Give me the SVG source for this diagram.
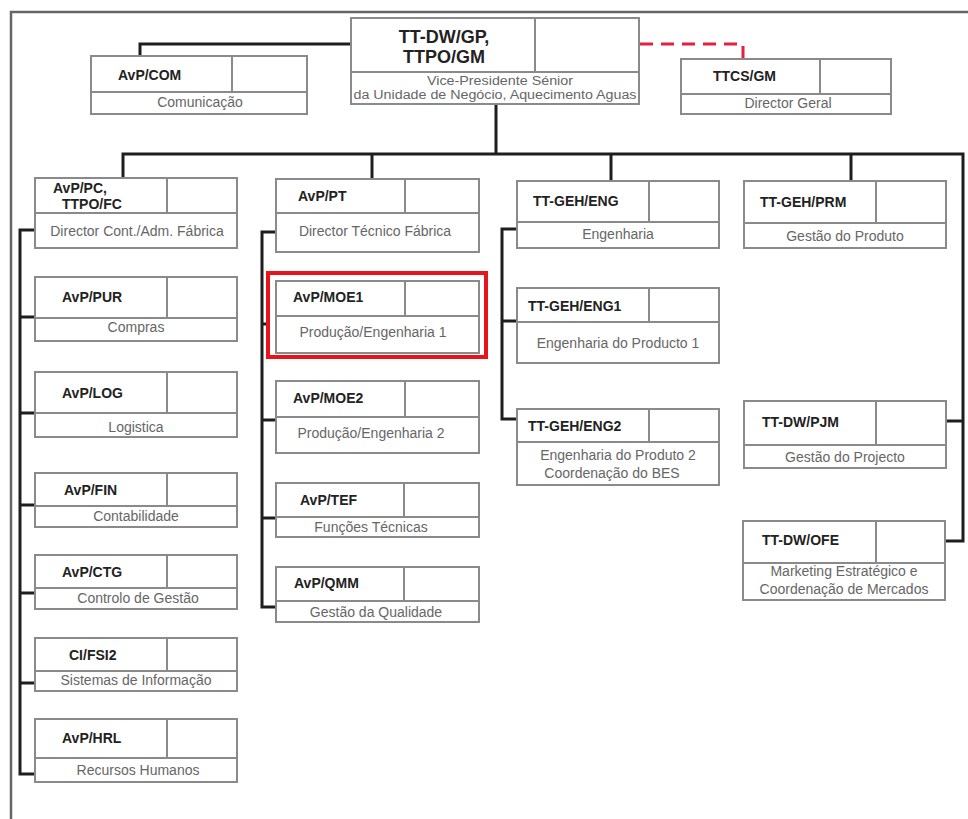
<svg xmlns="http://www.w3.org/2000/svg" width="968" height="819" viewBox="0 0 968 819">
<style>
.box{fill:#fff;stroke:#8a8a8a;stroke-width:2}
.div{stroke:#8a8a8a;stroke-width:2;fill:none}
.lbl{font-family:"Liberation Sans",Arial,sans-serif;font-size:14px;font-weight:bold;fill:#222}
.sub{font-family:"Liberation Sans",Arial,sans-serif;font-size:14px;fill:#666;text-anchor:middle}
.sm{font-size:12.5px}
.big{font-family:"Liberation Sans",Arial,sans-serif;font-size:18px;font-weight:bold;fill:#222;text-anchor:middle}
.con{stroke:#1e1e1e;stroke-width:3;fill:none}
.frame{stroke:#666;stroke-width:2.5;fill:none}
.dash{stroke:#e2203f;stroke-width:3;fill:none;stroke-dasharray:13 8}
</style>
<rect width="968" height="819" fill="#fff"/>
<path class="frame" d="M11 819 V12 H968"/>
<g id="connectors">
<path class="con" d="M140 56 V44 H352"/>
<path class="dash" d="M640 44 H743 V59"/>
<path class="con" d="M496 104 V154"/>
<path class="con" d="M123 178 V154 H963 V541 H945"/>
<path class="con" d="M372 154 V179"/>
<path class="con" d="M611 154 V181"/>
<path class="con" d="M851 154 V181"/>
<path class="con" d="M946 421 H963"/>
<path class="con" d="M35 230 H20 V774 H35"/>
<path class="con" d="M20 317 H35 M20 413 H35 M20 505 H35 M20 593 H35 M20 683 H35"/>
<path class="con" d="M276 232 H262 V607 H276"/>
<path class="con" d="M262 324 H268 M262 420 H276 M262 518 H276"/>
<path class="con" d="M517 229 H502 V419 H517"/>
<path class="con" d="M502 321 H517"/>
</g>
<g id="n-top">
<rect class="box" x="351" y="18" width="288" height="86"/>
<path class="div" d="M351 72 H639 M535 18 V72"/>
<text class="big" x="444" y="43">TT-DW/GP,</text>
<text class="big" x="444" y="63">TTPO/GM</text>
<text class="sub sm" x="500" y="85" textLength="146" lengthAdjust="spacingAndGlyphs">Vice-Presidente Sénior</text>
<text class="sub sm" x="495" y="99" textLength="283" lengthAdjust="spacingAndGlyphs">da Unidade de Negócio, Aquecimento Aguas</text>
</g>
<g id="n-com">
<rect class="box" x="91" y="56" width="216" height="58"/>
<path class="div" d="M91 92 H307 M232 56 V92"/>
<text class="lbl" x="118" y="80">AvP/COM</text>
<text class="sub" x="200" y="107">Comunicação</text>
</g>
<g id="n-ttcs">
<rect class="box" x="681" y="59" width="210" height="55"/>
<path class="div" d="M681 94 H891 M820 59 V94"/>
<text class="lbl" x="713" y="81">TTCS/GM</text>
<text class="sub" x="788" y="108">Director Geral</text>
</g>
<!-- column 1 -->
<g id="n-pc">
<rect class="box" x="35" y="178" width="202" height="70"/>
<path class="div" d="M35 213 H237 M167 178 V213"/>
<text class="lbl" x="53" y="193">AvP/PC,</text>
<text class="lbl" x="62" y="209">TTPO/FC</text>
<text class="sub" x="137" y="236">Director Cont./Adm. Fábrica</text>
</g>
<g id="n-pur">
<rect class="box" x="35" y="277" width="202" height="64"/>
<path class="div" d="M35 318 H237 M167 277 V318"/>
<text class="lbl" x="62" y="302">AvP/PUR</text>
<text class="sub" x="136" y="332">Compras</text>
</g>
<g id="n-log">
<rect class="box" x="35" y="372" width="202" height="65"/>
<path class="div" d="M35 413 H237 M167 372 V413"/>
<text class="lbl" x="62" y="398">AvP/LOG</text>
<text class="sub" x="136" y="432">Logistica</text>
</g>
<g id="n-fin">
<rect class="box" x="35" y="473" width="202" height="54"/>
<path class="div" d="M35 506 H237 M167 473 V506"/>
<text class="lbl" x="64" y="495">AvP/FIN</text>
<text class="sub" x="136" y="521">Contabilidade</text>
</g>
<g id="n-ctg">
<rect class="box" x="35" y="555" width="202" height="54"/>
<path class="div" d="M35 588 H237 M167 555 V588"/>
<text class="lbl" x="62" y="577">AvP/CTG</text>
<text class="sub" x="138" y="603">Controlo de Gestão</text>
</g>
<g id="n-fsi">
<rect class="box" x="35" y="638" width="202" height="53"/>
<path class="div" d="M35 671 H237 M167 638 V671"/>
<text class="lbl" x="69" y="660">CI/FSI2</text>
<text class="sub" x="136" y="685">Sistemas de Informação</text>
</g>
<g id="n-hrl">
<rect class="box" x="35" y="719" width="202" height="63"/>
<path class="div" d="M35 758 H237 M167 719 V758"/>
<text class="lbl" x="62" y="743">AvP/HRL</text>
<text class="sub" x="138" y="775">Recursos Humanos</text>
</g>
<!-- column 2 -->
<g id="n-pt">
<rect class="box" x="276" y="179" width="203" height="73"/>
<path class="div" d="M276 213 H479 M405 179 V213"/>
<text class="lbl" x="298" y="201">AvP/PT</text>
<text class="sub" x="375" y="236">Director Técnico Fábrica</text>
</g>
<g id="n-moe1">
<rect x="268" y="273" width="218" height="84" fill="#fff" stroke="#e8141c" stroke-width="4"/>
<rect class="box" x="276" y="281" width="203" height="72"/>
<path class="div" d="M276 316 H479 M405 281 V316"/>
<text class="lbl" x="293" y="302">AvP/MOE1</text>
<text class="sub" x="373" y="337">Produção/Engenharia 1</text>
</g>
<g id="n-moe2">
<rect class="box" x="276" y="381" width="203" height="72"/>
<path class="div" d="M276 417 H479 M405 381 V417"/>
<text class="lbl" x="293" y="403">AvP/MOE2</text>
<text class="sub" x="371" y="438">Produção/Engenharia 2</text>
</g>
<g id="n-tef">
<rect class="box" x="276" y="483" width="203" height="54"/>
<path class="div" d="M276 517 H479 M404 483 V517"/>
<text class="lbl" x="300" y="505">AvP/TEF</text>
<text class="sub" x="371" y="532">Funções Técnicas</text>
</g>
<g id="n-qmm">
<rect class="box" x="276" y="567" width="203" height="55"/>
<path class="div" d="M276 601 H479 M404 567 V601"/>
<text class="lbl" x="294" y="588">AvP/QMM</text>
<text class="sub" x="376" y="617">Gestão da Qualidade</text>
</g>
<!-- column 3 -->
<g id="n-eng">
<rect class="box" x="517" y="181" width="202" height="67"/>
<path class="div" d="M517 222 H719 M649 181 V222"/>
<text class="lbl" x="533" y="206">TT-GEH/ENG</text>
<text class="sub" x="618" y="239">Engenharia</text>
</g>
<g id="n-eng1">
<rect class="box" x="517" y="288" width="202" height="75"/>
<path class="div" d="M517 322 H719 M649 288 V322"/>
<text class="lbl" x="528" y="311">TT-GEH/ENG1</text>
<text class="sub" x="618" y="348">Engenharia do Producto 1</text>
</g>
<g id="n-eng2">
<rect class="box" x="517" y="409" width="202" height="76"/>
<path class="div" d="M517 442 H719 M649 409 V442"/>
<text class="lbl" x="528" y="431">TT-GEH/ENG2</text>
<text class="sub" x="618" y="460">Engenharia do Produto 2</text>
<text class="sub" x="612" y="478">Coordenação do BES</text>
</g>
<!-- column 4 -->
<g id="n-prm">
<rect class="box" x="744" y="181" width="202" height="67"/>
<path class="div" d="M744 223 H946 M876 181 V223"/>
<text class="lbl" x="760" y="207">TT-GEH/PRM</text>
<text class="sub" x="845" y="241">Gestão do Produto</text>
</g>
<g id="n-pjm">
<rect class="box" x="744" y="401" width="202" height="67"/>
<path class="div" d="M744 445 H946 M876 401 V445"/>
<text class="lbl" x="762" y="427">TT-DW/PJM</text>
<text class="sub" x="845" y="462">Gestão do Projecto</text>
</g>
<g id="n-ofe">
<rect class="box" x="743" y="521" width="202" height="79"/>
<path class="div" d="M743 563 H945 M876 521 V563"/>
<text class="lbl" x="762" y="545">TT-DW/OFE</text>
<text class="sub" x="844" y="576">Marketing Estratégico e</text>
<text class="sub" x="844" y="594">Coordenação de Mercados</text>
</g>
</svg>
